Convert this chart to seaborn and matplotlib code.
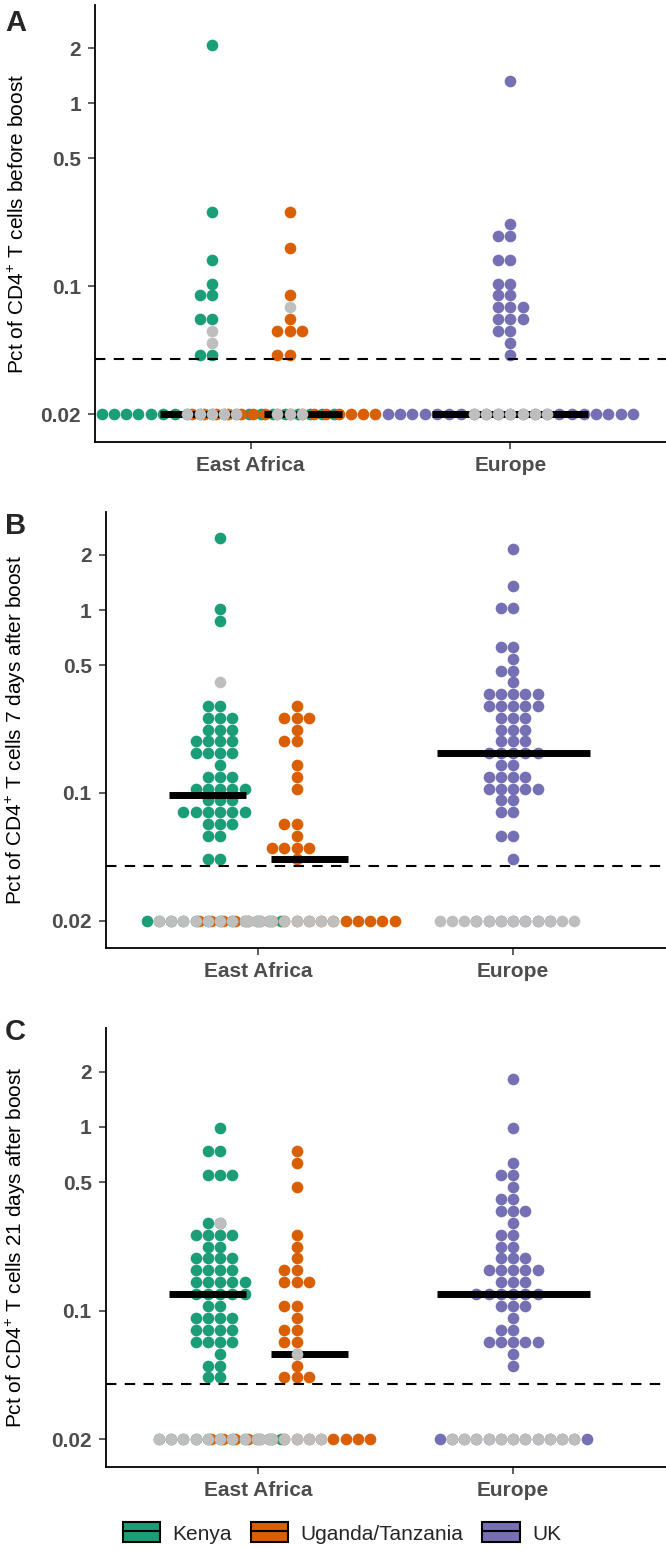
import numpy as np
import pandas as pd
import seaborn as sns
import matplotlib.pyplot as plt
from matplotlib.patches import Patch
from matplotlib.lines import Line2D
from matplotlib.ticker import NullLocator

# values (percent of CD4+ T cells); 0.02 = below detection
# *_grey = the grey dots drawn on top of each country column

# A: before boost
a_kenya = ([2.08, 0.2539, 0.1397, 0.1036] + [0.08926] * 2 + [0.06622] * 2
           + [0.04231] * 2 + [0.02] * 20)
a_kenya_grey = [0.05703, 0.04912] + [0.02] * 5
a_ugtz = ([0.2539, 0.1622, 0.08926, 0.06622] + [0.05703] * 3 + [0.04231] * 2
          + [0.02] * 16)
a_ugtz_grey = [0.07688] + [0.02] * 3
a_uk = ([1.33, 0.2187] + [0.1883] * 2 + [0.1397] * 2 + [0.1036] * 2
        + [0.08926] * 2 + [0.07688] * 3 + [0.06622] * 3 + [0.05703] * 2
        + [0.04912, 0.04231] + [0.02] * 21)
a_uk_grey = [0.02] * 7

# B: 7 days after boost
b_kenya = ([2.49, 1.01, 0.87] + [0.2986] * 2 + [0.2573] * 3 + [0.2217] * 3
           + [0.1911] * 4 + [0.1647] * 4 + [0.1419] + [0.1223] * 3
           + [0.1054] * 5 + [0.09081] * 3 + [0.07826] * 6 + [0.06744] * 3
           + [0.05812] * 2 + [0.04316] * 2 + [0.02] * 12)
b_kenya_grey = [0.4020] + [0.02] * 10
b_ugtz = ([0.2986] + [0.2573] * 3 + [0.2217] + [0.1911] * 2 + [0.1419, 0.1223, 0.1054]
          + [0.06744] * 2 + [0.05812] + [0.05008] * 4 + [0.04316] + [0.02] * 17)
b_ugtz_grey = [0.02] * 8
b_uk = ([2.15, 1.36] + [1.02] * 2 + [0.6282] * 2 + [0.5414] + [0.4665] * 2
        + [0.4020] + [0.3465] * 5 + [0.2986] * 5 + [0.2573] * 3 + [0.2217] * 3
        + [0.1911] * 3 + [0.1647] * 5 + [0.1419] * 2 + [0.1223] * 4
        + [0.1054] * 5 + [0.09081] * 2 + [0.07826] * 2 + [0.05812] * 2
        + [0.04316] + [0.02] * 7)
b_uk_grey = [0.02] * 12

# C: 21 days after boost
c_kenya = ([0.9911] + [0.7358] * 2 + [0.5463] * 3 + [0.3011] * 2 + [0.2594] * 4
           + [0.2235] * 2 + [0.1926] * 4 + [0.1659] * 4 + [0.1430] * 5
           + [0.1232] * 5 + [0.1061] * 2 + [0.09143] * 4 + [0.07878] * 4
           + [0.06788] * 4 + [0.05849] + [0.05039] * 2 + [0.04342] * 2
           + [0.02] * 11)
c_kenya_grey = [0.3011] + [0.02] * 10
c_ugtz = ([0.7358, 0.6340, 0.4707, 0.2594, 0.2235, 0.1926] + [0.1659] * 2
          + [0.1430] * 3 + [0.1061] * 2 + [0.09143] + [0.07878] * 2
          + [0.06788] * 2 + [0.05849, 0.05039] + [0.04342] * 3 + [0.02] * 14)
c_ugtz_grey = [0.05849] + [0.02] * 6
c_uk = ([1.82, 0.9911, 0.6340] + [0.5463] * 2 + [0.4707] + [0.4055] * 2
        + [0.3494] * 3 + [0.3011] + [0.2594] * 2 + [0.2235] * 2 + [0.1926] * 3
        + [0.1659] * 5 + [0.1430] * 3 + [0.1232] * 6 + [0.1061] * 3
        + [0.09143] + [0.07878] * 2 + [0.06788] * 5 + [0.05849, 0.05039]
        + [0.02] * 13)
c_uk_grey = [0.02] * 11

countries = ["Kenya", "Uganda/Tanzania", "UK"]
country_region = ["East Africa", "East Africa", "Europe"]
regions = ["East Africa", "Europe"]
palette = ["#1B9E77", "#D95F02", "#7570B3"]
grey = "#BEBEBE"
threshold = 0.04
ylabels = ["Pct of CD4$^{+}$ T cells before boost",
           "Pct of CD4$^{+}$ T cells 7 days after boost",
           "Pct of CD4$^{+}$ T cells 21 days after boost"]
panels = ["A", "B", "C"]

panel_data = {
    "A": [(a_kenya, a_kenya_grey), (a_ugtz, a_ugtz_grey), (a_uk, a_uk_grey)],
    "B": [(b_kenya, b_kenya_grey), (b_ugtz, b_ugtz_grey), (b_uk, b_uk_grey)],
    "C": [(c_kenya, c_kenya_grey), (c_ugtz, c_ugtz_grey), (c_uk, c_uk_grey)],
}

rows = []
for p in panels:
    for country, (vals, greys) in zip(countries, panel_data[p]):
        rows += [(p, country, v, False) for v in vals]
        rows += [(p, country, v, True) for v in greys]
df = pd.DataFrame(rows, columns=["panel", "country", "value", "grey"])

# layout: regions half a unit apart so the swarms have room to spread
region_x = {"East Africa": 0.0, "Europe": 0.5}
dot_shift = {"Kenya": -0.075, "Uganda/Tanzania": 0.075, "UK": 0.0}
bar_shift = {"Kenya": -0.1, "Uganda/Tanzania": 0.1, "UK": 0.0}
bar_half = {"Kenya": 0.075, "Uganda/Tanzania": 0.075, "UK": 0.15}
df["xpos"] = [region_x[country_region[countries.index(c)]] + dot_shift[c]
              for c in df["country"]]

sns.set_style("ticks")
plt.rcParams["font.family"] = ["Liberation Sans", "DejaVu Sans"]
plt.rcParams["mathtext.fontset"] = "custom"
plt.rcParams["mathtext.rm"] = "Liberation Sans"

W, H = 666, 1550
fig = plt.figure(figsize=(W / 100, H / 100), dpi=100)

# axes boxes in pixels: left, top, bottom
boxes = [(95, 5, 442), (105.6, 511.7, 948.3), (105.6, 1028, 1467.3)]
letter_top = [9, 512, 1018]
DOT = 8.4

for p, (left, top, bottom), ylab, ltop in zip(panels, boxes, ylabels, letter_top):
    ax = fig.add_axes([left / W, 1 - bottom / H, (W - left) / W, (bottom - top) / H])
    sub = df[df["panel"] == p]

    for country, color in zip(countries, palette):
        d = sub[(sub["country"] == country) & (~sub["grey"])]
        sns.swarmplot(data=d, x="xpos", y="value", native_scale=True,
                      log_scale=(False, True), orient="x", color=color,
                      size=DOT, linewidth=0, ax=ax, zorder=2)
        # median on the log scale, as the original did
        med = np.exp(np.median(np.log(d["value"])))
        cx = region_x[country_region[countries.index(country)]] + bar_shift[country]
        ax.hlines(med, cx - bar_half[country], cx + bar_half[country],
                  color="black", lw=5, zorder=3)

    for country in countries:
        g = sub[(sub["country"] == country) & (sub["grey"])]
        sns.swarmplot(data=g, x="xpos", y="value", native_scale=True,
                      log_scale=(False, True), orient="x", color=grey,
                      size=DOT, linewidth=0, ax=ax, zorder=4)

    ax.axhline(threshold, color="black", lw=1.5, ls=(0, (5, 4)), zorder=5)

    ax.set_xlim(-0.3, 0.8)
    ax.set_ylim(0.0141, 3.45)
    ax.set_yticks([0.02, 0.1, 0.5, 1, 2])
    ax.set_yticklabels(["0.02", "0.1", "0.5", "1", "2"])
    ax.yaxis.set_minor_locator(NullLocator())
    ax.set_xticks([region_x[r] for r in regions])
    ax.set_xticklabels(regions)
    ax.set_xlabel("")
    ax.set_ylabel(ylab, fontsize=15, color="black")
    ax.yaxis.set_label_coords((28 - left) / (W - left), 0.5)

    ax.tick_params(axis="both", length=5, width=1.1, color="#333333",
                   labelsize=15, labelcolor="#4D4D4D", pad=5)
    for lbl in ax.get_xticklabels() + ax.get_yticklabels():
        lbl.set_fontweight("bold")
    sns.despine(ax=ax)
    for s in ["left", "bottom"]:
        ax.spines[s].set_linewidth(1.3)
        ax.spines[s].set_color("black")

    fig.text(5 / W, 1 - ltop / H, p, fontsize=21, fontweight="bold",
             ha="left", va="top")

handles = [(Patch(facecolor=c, edgecolor="black", linewidth=1.5),
            Line2D([0], [0], color="black", lw=1.5)) for c in palette]
fig.legend(handles, countries, loc="center", bbox_to_anchor=(342 / W, 1 - 1533 / H),
           ncol=3, frameon=False, fontsize=15, handlelength=1.8, handleheight=1.1,
           handletextpad=0.6, columnspacing=0.9)

fig.savefig("out.png", dpi=100)
